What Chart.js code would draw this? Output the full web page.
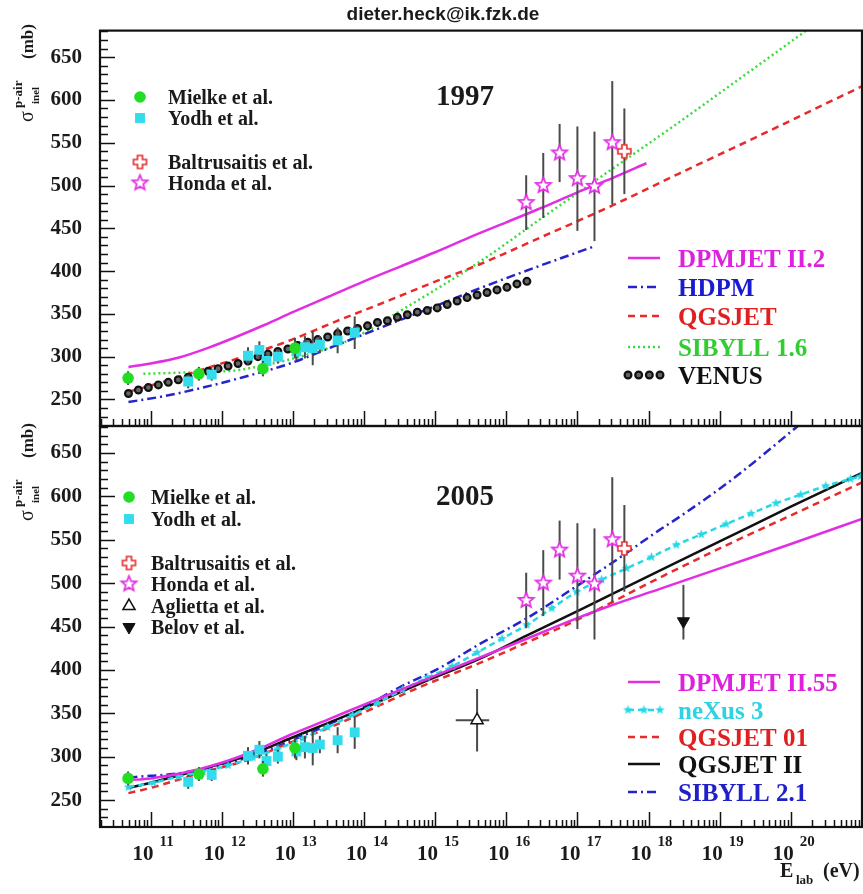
<!DOCTYPE html>
<html>
<head>
<meta charset="utf-8">
<title>p-air inelastic cross section</title>
<script src="https://cdn.jsdelivr.net/npm/chart.js@4.4.1/dist/chart.umd.min.js"></script>
<style>
  body { margin: 0; background: #fff; }
  #wrap { position: relative; width: 863px; height: 894px; }
  #wrap canvas { position: absolute; left: 0; top: 0; }
</style>
</head>
<body>
<div id="wrap">
  <canvas id="c1997" width="863" height="894"></canvas>
  <canvas id="c2005" width="863" height="894"></canvas>
</div>
<script>
// x = log10(E_lab / eV), y = sigma_inel(p-air) in mb
var X_MIN = 10.29, X_MAX = 21.0;
var Y_MIN = 219, Y_MAX = 681;
var decades = [11, 12, 13, 14, 15, 16, 17, 18, 19, 20];

// ---- measurements ----
var mielkeE = [10.685, 11.68, 12.58, 13.03];
var mielkeS = [275, 280, 286, 310];
var mielkeErr = [8, 8, 9, 12];

var yodhE = [11.53, 11.86, 12.37, 12.53, 12.63, 12.79, 13.05, 13.17, 13.28, 13.38, 13.63, 13.87];
var yodhS = [271, 279, 301, 308, 295, 300, 306, 311, 310, 314, 319, 328];
var yodhErr = [8, 7, 10, 10, 8, 8, 10, 13, 20, 10, 15, 19];

var hondaE = [16.28, 16.52, 16.75, 17.0, 17.24, 17.49];
var hondaS = [480, 500, 538, 508, 499, 550];
var hondaErr = [32, 38, 34, 61, 64, 72];

var baltE = [17.66];
var baltS = [540];
var baltErr = [50];

var agliettaE = [15.59];
var agliettaS = [342];
var agliettaErr = [36];
var agliettaElo = [0.30];
var agliettaEhi = [0.17];

var belovE = [18.49];
var belovS = [456];
var belovErrLo = [21];
var belovErrHi = [42];

// ---- 1997 models ----
var dpm22E = [10.69, 11.0, 11.4, 11.8, 12.2, 12.6, 13.0, 13.5, 14.0, 14.5, 15.0, 15.5, 16.0, 16.5, 17.0, 17.5, 17.97];
var dpm22S = [288, 292, 299, 310, 323, 337, 352, 370, 388, 405, 422, 440, 457, 474, 492, 509, 526];

var hdpmE = [10.69, 11.2, 11.69, 12.3, 12.96, 13.6, 14.36, 15.0, 15.63, 16.4, 17.24];
var hdpmS = [247, 254, 263, 276, 292, 313, 338, 359, 380, 404, 429];

var qgsE = [10.69, 11.2, 11.69, 12.3, 12.96, 13.6, 14.36, 14.92, 15.63, 16.5, 17.5, 18.43, 19.5, 20.3, 21.0];
var qgsS = [259, 271, 284, 300, 319, 341, 366, 385, 408, 440, 477, 514, 556, 588, 616];

var sib16E = [10.9, 11.3, 11.69, 12.2, 12.6, 13.1, 13.5, 13.89, 14.36, 15.0, 15.63, 16.5, 17.5, 18.43, 19.3, 20.25];
var sib16S = [280, 281, 282, 284, 290, 300, 310, 323, 346, 378, 411, 462, 520, 574, 626, 683];

var venusE = [10.69, 10.83, 10.97, 11.11, 11.25, 11.39, 11.53, 11.67, 11.81, 11.95, 12.09, 12.23, 12.37, 12.51,
              12.65, 12.79, 12.93, 13.07, 13.21, 13.35, 13.49, 13.63, 13.77, 13.91, 14.05, 14.19, 14.33, 14.47,
              14.61, 14.75, 14.89, 15.03, 15.17, 15.31, 15.45, 15.59, 15.73, 15.87, 16.01, 16.15, 16.29];
var venusS = [257, 261, 264, 267, 270, 273, 276, 280, 283, 286, 289, 292, 295, 300,
              303, 306, 309, 313, 317, 320, 323, 327, 330, 333, 336, 340, 342, 346,
              349, 352, 354, 357, 361, 365, 369, 372, 375, 378, 381, 385, 388];

// ---- 2005 models ----
var dpm255E = [10.69, 11.0, 11.5, 12.0, 12.5, 12.96, 13.5, 14.0, 14.78, 15.5, 16.2, 16.98, 17.5, 18.15, 19.0, 20.0, 21.0];
var dpm255S = [273, 275, 282, 293, 308, 325, 343, 360, 386, 410, 433, 459, 475, 493, 517, 545, 574];

var nexusE = [10.69, 11.04, 11.39, 11.74, 12.09, 12.44, 12.79, 13.14, 13.49, 13.84, 14.19, 14.54, 14.89, 15.24, 15.59,
              15.94, 16.29, 16.64, 16.99, 17.34, 17.69, 18.04, 18.39, 18.74, 19.09, 19.44, 19.79, 20.14, 20.49, 20.84, 20.98];
var nexusS = [265, 270, 277, 283, 290, 299, 309, 321, 334, 348, 362, 377, 391, 404, 420,
              436, 452, 471, 490, 504, 517, 530, 544, 556, 568, 580, 592, 602, 612, 620, 623];

var qgs01E = [10.69, 11.0, 11.69, 12.39, 12.96, 13.5, 14.0, 14.78, 15.63, 16.3, 16.98, 18.15, 19.0, 20.0, 21.0];
var qgs01S = [258, 264, 281, 297, 316, 333, 351, 380, 408, 432, 457, 506, 540, 578, 616];

var qgs2E = [10.69, 11.0, 11.69, 12.39, 12.96, 13.5, 14.0, 14.78, 15.63, 16.3, 17.03, 18.15, 19.0, 20.0, 21.0];
var qgs2S = [264, 270, 285, 302, 321, 339, 356, 384, 413, 440, 469, 514, 548, 588, 627];

var sib21E = [10.69, 11.0, 11.32, 11.8, 12.4, 12.96, 13.5, 14.0, 14.5, 15.06, 15.63, 16.28, 16.98, 17.5, 18.15, 18.43, 19.2, 20.1];
var sib21S = [276, 278, 280, 287, 300, 318, 337, 357, 380, 402, 430, 459, 496, 524, 561, 576, 621, 681];

// ---- styling ----
var SERIF = '"Liberation Serif", "Times New Roman", serif';
var MAG = '#e22ee2', BLU = '#2424c8', RED = '#e82a2a', GRN = '#3adc3a', CYA = '#25d8e6', BLK = '#111111';

function pts(xs, ys) {
  return xs.map(function (x, i) { return {x: x, y: ys[i]}; });
}

function starImg(rOut, rIn, fill, stroke, lw) {
  var size = Math.ceil(2 * rOut + lw + 3);
  var c = document.createElement('canvas');
  c.width = c.height = size;
  var g = c.getContext('2d');
  g.beginPath();
  for (var i = 0; i < 10; i++) {
    var r = i % 2 ? rIn : rOut;
    var a = -Math.PI / 2 + i * Math.PI / 5;
    g.lineTo(size / 2 + r * Math.cos(a), size / 2 + r * Math.sin(a));
  }
  g.closePath();
  if (fill) { g.fillStyle = fill; g.fill(); }
  if (stroke) { g.strokeStyle = stroke; g.lineWidth = lw; g.stroke(); }
  return c;
}

function crossImg(h, w, stroke) {
  var size = Math.ceil(2 * h + 4);
  var c = document.createElement('canvas');
  c.width = c.height = size;
  var g = c.getContext('2d');
  var m = size / 2;
  var p = [[-w, -h], [w, -h], [w, -w], [h, -w], [h, w], [w, w], [w, h], [-w, h], [-w, w], [-h, w], [-h, -w], [-w, -w]];
  g.beginPath();
  p.forEach(function (q) { g.lineTo(m + q[0], m + q[1]); });
  g.closePath();
  g.fillStyle = '#fff'; g.fill();
  g.strokeStyle = stroke; g.lineWidth = 1.6; g.stroke();
  return c;
}

var hondaStar = starImg(8, 3.5, '#fff', MAG, 1.7);
var nexusStar = starImg(5, 2.1, CYA, null, 0);
var baltCross = crossImg(6.5, 2.5, RED);

function marks(label, xs, ys, style, radius, fill, border, bw, extra) {
  var ds = {
    label: label, data: pts(xs, ys), showLine: false,
    pointStyle: style, pointRadius: radius, pointRotation: 0,
    pointBackgroundColor: fill, pointBorderColor: border, pointBorderWidth: bw,
    backgroundColor: fill, borderColor: border
  };
  for (var k in (extra || {})) ds[k] = extra[k];
  return ds;
}

function curve(label, xs, ys, color, dash, extra) {
  var ds = {
    label: label, data: pts(xs, ys), showLine: true,
    borderColor: color, backgroundColor: color, borderWidth: 2.5, borderDash: dash,
    cubicInterpolationMode: 'monotone', pointRadius: 0
  };
  for (var k in (extra || {})) ds[k] = extra[k];
  return ds;
}

function dataMarks() {
  return [
    marks('Honda et al.', hondaE, hondaS, hondaStar, 4, '#fff', MAG, 1, {yErrLo: hondaErr, yErrHi: hondaErr}),
    marks('Baltrusaitis et al.', baltE, baltS, baltCross, 4, '#fff', RED, 1, {yErrLo: baltErr, yErrHi: baltErr}),
    marks('Mielke et al.', mielkeE, mielkeS, 'circle', 5.8, '#22dd22', '#22dd22', 0, {yErrLo: mielkeErr, yErrHi: mielkeErr}),
    marks('Yodh et al.', yodhE, yodhS, 'rect', 7, '#33dcec', '#33dcec', 0, {yErrLo: yodhErr, yErrHi: yodhErr})
  ];
}

var sets1997 = dataMarks().concat([
  marks('VENUS', venusE, venusS, 'circle', 3.4, '#666', BLK, 2.2, {legendMarks: 4}),
  curve('DPMJET II.2', dpm22E, dpm22S, MAG, []),
  curve('HDPM', hdpmE, hdpmS, BLU, [9, 4, 2, 4]),
  curve('QGSJET', qgsE, qgsS, RED, [7, 5]),
  curve('SIBYLL 1.6', sib16E, sib16S, GRN, [2, 3])
]);

var sets2005 = [
  marks('Belov et al.', belovE, belovS, 'triangle', 7, BLK, BLK, 1, {pointRotation: 180, yErrLo: belovErrLo, yErrHi: belovErrHi}),
  marks('Aglietta et al.', agliettaE, agliettaS, 'triangle', 7, '#fff', BLK, 1.5,
        {yErrLo: agliettaErr, yErrHi: agliettaErr, xErrLo: agliettaElo, xErrHi: agliettaEhi})
].concat(dataMarks()).concat([
  curve('DPMJET II.55', dpm255E, dpm255S, MAG, []),
  curve('neXus 3', nexusE, nexusS, CYA, [6, 4], {pointRadius: 3, pointStyle: nexusStar, legendMarks: 3}),
  curve('QGSJET 01', qgs01E, qgs01S, RED, [7, 5]),
  curve('QGSJET II', qgs2E, qgs2S, BLK, []),
  curve('SIBYLL 2.1', sib21E, sib21S, BLU, [9, 4, 2, 4])
]);

function findSet(chart, label) {
  return chart.data.datasets.filter(function (d) { return d.label === label; })[0];
}

function drawMark(ctx, ds, x, y) {
  ctx.save();
  ctx.fillStyle = ds.pointBackgroundColor || ds.borderColor;
  ctx.strokeStyle = ds.pointBorderColor || ds.borderColor;
  ctx.lineWidth = ds.pointBorderWidth || 1;
  Chart.helpers.drawPoint(ctx, {
    pointStyle: ds.pointStyle, radius: ds.pointRadius || 3,
    rotation: ds.pointRotation || 0, borderWidth: ds.pointBorderWidth || 0
  }, x, y);
  ctx.restore();
}

function drawSample(ctx, ds, x0, x1, y) {
  if (ds.showLine) {
    ctx.save();
    ctx.strokeStyle = ds.borderColor;
    ctx.lineWidth = ds.borderWidth;
    ctx.setLineDash(ds.borderDash || []);
    ctx.beginPath(); ctx.moveTo(x0, y); ctx.lineTo(x1, y); ctx.stroke();
    ctx.restore();
  }
  var n = ds.legendMarks || 0;
  for (var i = 0; i < n; i++) drawMark(ctx, ds, x0 + (x1 - x0) * i / (n - 1), y);
}

function yTitle(ctx, y0) {
  ctx.save();
  ctx.translate(33, y0);
  ctx.rotate(-Math.PI / 2);
  ctx.fillStyle = '#1a1a1a';
  ctx.textAlign = 'left';
  ctx.textBaseline = 'alphabetic';
  ctx.font = '20px ' + SERIF; ctx.fillText('\u03c3', 0, 0);
  ctx.font = 'bold 13px ' + SERIF; ctx.fillText('p-air', 14, -11);
  ctx.font = 'bold 11px ' + SERIF; ctx.fillText('inel', 18, 6);
  ctx.font = 'bold 17px ' + SERIF; ctx.fillText('(mb)', 63, 0);
  ctx.restore();
}

function decor(cfg) {
  return {
    id: 'decor',
    beforeDatasetDraw: function (chart, args) {
      var ds = chart.data.datasets[args.index];
      if (!ds.yErrLo) return;
      var ctx = chart.ctx, xs = chart.scales.x, ys = chart.scales.y;
      ctx.save();
      ctx.strokeStyle = '#4a4a4a';
      ctx.lineWidth = 2;
      ds.data.forEach(function (p, i) {
        var px = xs.getPixelForValue(p.x);
        ctx.beginPath();
        ctx.moveTo(px, ys.getPixelForValue(p.y - ds.yErrLo[i]));
        ctx.lineTo(px, ys.getPixelForValue(p.y + ds.yErrHi[i]));
        if (ds.xErrLo) {
          var py = ys.getPixelForValue(p.y);
          ctx.moveTo(xs.getPixelForValue(p.x - ds.xErrLo[i]), py);
          ctx.lineTo(xs.getPixelForValue(p.x + ds.xErrHi[i]), py);
        }
        ctx.stroke();
      });
      ctx.restore();
    },
    afterDraw: function (chart) {
      var ctx = chart.ctx, a = chart.chartArea, xs = chart.scales.x, ys = chart.scales.y;
      ctx.save();
      // inward ticks
      ctx.strokeStyle = BLK;
      ctx.lineWidth = 1.5;
      ctx.beginPath();
      for (var v = 230; v < Y_MAX; v += 10) {
        var py = Math.round(ys.getPixelForValue(v)) + 0.5;
        ctx.moveTo(a.left, py);
        ctx.lineTo(a.left + (v % 50 === 0 ? 15 : 8), py);
      }
      for (var n = 10; n <= 20; n++) {
        for (var k = 1; k <= 9; k++) {
          var lv = n + Math.log10(k);
          if (lv <= X_MIN || lv >= X_MAX) continue;
          var px = Math.round(xs.getPixelForValue(lv)) + 0.5;
          ctx.moveTo(px, a.bottom);
          ctx.lineTo(px, a.bottom - (k === 1 ? 15 : 7));
        }
      }
      ctx.stroke();
      ctx.lineWidth = 2.2;
      ctx.strokeRect(a.left, a.top, a.right - a.left, a.bottom - a.top);

      ctx.fillStyle = '#1a1a1a';
      ctx.textBaseline = 'alphabetic';
      if (cfg.header) {
        ctx.font = 'bold 19px "Liberation Sans", Arial, sans-serif';
        ctx.textAlign = 'center';
        ctx.fillText('dieter.heck@ik.fzk.de', 443, 20);
      }
      ctx.font = 'bold 29px ' + SERIF;
      ctx.textAlign = 'left';
      ctx.fillText(cfg.year, 436, cfg.yearY);
      yTitle(ctx, cfg.titleY);

      if (cfg.xLabels) {
        decades.forEach(function (d) {
          var px = xs.getPixelForValue(d);
          ctx.font = 'bold 21px ' + SERIF;
          ctx.textAlign = 'right';
          ctx.fillText('10', px + 3, 860);
          ctx.font = 'bold 15px ' + SERIF;
          ctx.textAlign = 'left';
          ctx.fillText(String(d), px + 9, 846);
        });
        ctx.font = 'bold 20px ' + SERIF;
        ctx.fillText('E', 780, 877);
        ctx.font = 'bold 13px ' + SERIF;
        ctx.fillText('lab', 796, 884);
        ctx.font = 'bold 20px ' + SERIF;
        ctx.fillText('(eV)', 823, 877);
      }

      // data legend (left)
      ctx.font = 'bold 20px ' + SERIF;
      ctx.textAlign = 'left';
      cfg.left.rows.forEach(function (r) {
        drawMark(ctx, findSet(chart, r[0]), cfg.left.mx, r[1]);
        ctx.fillStyle = '#1a1a1a';
        ctx.fillText(r[0], cfg.left.tx, r[1] + 7);
      });
      // model legend (right)
      ctx.font = 'bold 25px ' + SERIF;
      cfg.right.rows.forEach(function (r) {
        var ds = findSet(chart, r[0]);
        drawSample(ctx, ds, cfg.right.x0, cfg.right.x1, r[1]);
        ctx.fillStyle = r[2];
        ctx.fillText(r[0], cfg.right.tx, r[1] + 9);
      });
      ctx.restore();
    }
  };
}

function panel(id, datasets, padTop, padBottom, cfg) {
  return new Chart(document.getElementById(id), {
    type: 'scatter',
    data: {datasets: datasets},
    options: {
      responsive: false,
      animation: false,
      events: [],
      layout: {autoPadding: false, padding: {left: 0, right: 1, top: padTop, bottom: padBottom}},
      plugins: {legend: {display: false}, tooltip: {enabled: false}},
      scales: {
        x: {type: 'linear', display: false, min: X_MIN, max: X_MAX},
        y: {
          type: 'linear', min: Y_MIN, max: Y_MAX,
          grid: {display: false, drawTicks: false},
          border: {display: false},
          ticks: {stepSize: 50, includeBounds: false, padding: 18, color: '#1a1a1a',
                  font: {family: SERIF, weight: 'bold', size: 21}},
          afterFit: function (s) { s.width = 100; }
        }
      }
    },
    plugins: [decor(cfg)]
  });
}

panel('c1997', sets1997, 25, 468, {
  header: true, year: '1997', yearY: 105, titleY: 122, xLabels: false,
  left: {mx: 140, tx: 168, rows: [['Mielke et al.', 97], ['Yodh et al.', 118],
                                  ['Baltrusaitis et al.', 162], ['Honda et al.', 183]]},
  right: {x0: 628, x1: 660, tx: 678, rows: [['DPMJET II.2', 258, '#dd22dd'], ['HDPM', 287, '#1a1ad0'],
                                            ['QGSJET', 316, '#e02020'], ['SIBYLL 1.6', 347, '#33cc33'],
                                            ['VENUS', 375, '#111']]}
});

panel('c2005', sets2005, 426, 67, {
  header: false, year: '2005', yearY: 505, titleY: 521, xLabels: true,
  left: {mx: 129, tx: 151, rows: [['Mielke et al.', 497], ['Yodh et al.', 519], ['Baltrusaitis et al.', 563],
                                  ['Honda et al.', 584], ['Aglietta et al.', 606], ['Belov et al.', 627]]},
  right: {x0: 628, x1: 660, tx: 678, rows: [['DPMJET II.55', 682, '#dd22dd'], ['neXus 3', 710, '#2ed2e0'],
                                            ['QGSJET 01', 737, '#e02020'], ['QGSJET II', 764, '#111'],
                                            ['SIBYLL 2.1', 792, '#2020c8']]}
});
</script>
</body>
</html>
